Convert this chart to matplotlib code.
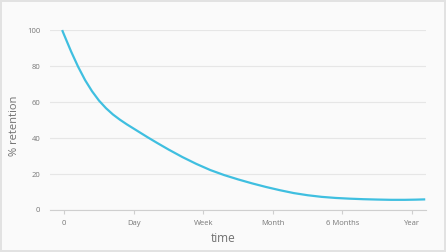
import matplotlib.pyplot as plt

# values (x in tick units: 0, Day, Week, Month, 6 Months, Year)
time_pos = [-0.03, 0.0, 0.1, 0.2, 0.3, 0.4, 0.5, 0.6, 0.7, 0.8, 0.9, 1.0,
            1.1, 1.2, 1.33, 1.5, 1.7, 1.9, 2.1, 2.3, 2.5, 2.7, 2.9, 3.1,
            3.3, 3.5, 3.7, 3.9, 4.1, 4.3, 4.5, 4.7, 4.9, 5.05, 5.19]
retention = [100, 97.2, 88, 79.6, 72.2, 66, 60.8, 56.6, 53.1, 50.2, 47.6, 45.2,
             42.8, 40.4, 37.4, 33.6, 29.4, 25.6, 22.2, 19.4, 17, 14.8, 12.8, 11,
             9.4, 8.2, 7.3, 6.7, 6.3, 6.0, 5.8, 5.65, 5.65, 5.75, 5.9]

tick_labels = ["0", "Day", "Week", "Month", "6 Months", "Year"]
y_ticks = [0, 20, 40, 60, 80, 100]

plt.rcParams["font.family"] = ["Open Sans", "DejaVu Sans"]

fig = plt.figure(figsize=(4.46, 2.52), dpi=100)
fig.patch.set_facecolor("#fafafa")
fig.patch.set_edgecolor("#e2e2e2")
fig.patch.set_linewidth(1.5)

ax = fig.add_axes([0.112, 0.1667, 0.843, 0.714])
ax.set_facecolor("#fafafa")

ax.plot(time_pos, retention, color="#3fbfe0", linewidth=1.6,
        clip_on=False, solid_capstyle="butt", solid_joinstyle="round")

ax.set_xlim(-0.205, 5.2)
ax.set_ylim(0, 100)
ax.set_xticks(range(len(tick_labels)))
ax.set_xticklabels(tick_labels)
ax.set_yticks(y_ticks)

ax.yaxis.grid(True, color="#e6e6e6", linewidth=0.8)
ax.set_axisbelow(True)

for side in ["top", "right", "left"]:
    ax.spines[side].set_visible(False)
ax.spines["bottom"].set_color("#cfcfcf")
ax.spines["bottom"].set_linewidth(0.8)

ax.tick_params(axis="x", length=3, color="#cfcfcf", pad=4,
               labelsize=5.5, labelcolor="#777777")
ax.tick_params(axis="y", length=0, pad=7,
               labelsize=5.5, labelcolor="#777777")

ax.set_xlabel("time", fontsize=8.5, color="#707070")
ax.set_ylabel("% retention", fontsize=8, color="#707070")
ax.xaxis.set_label_coords(0.461, -0.156)
ax.yaxis.set_label_coords(-0.093, 0.467)
ax.xaxis.label.set_va("center")
ax.yaxis.label.set_va("center")

fig.savefig("out.png", dpi=100, facecolor=fig.get_facecolor(),
            edgecolor=fig.get_edgecolor())
